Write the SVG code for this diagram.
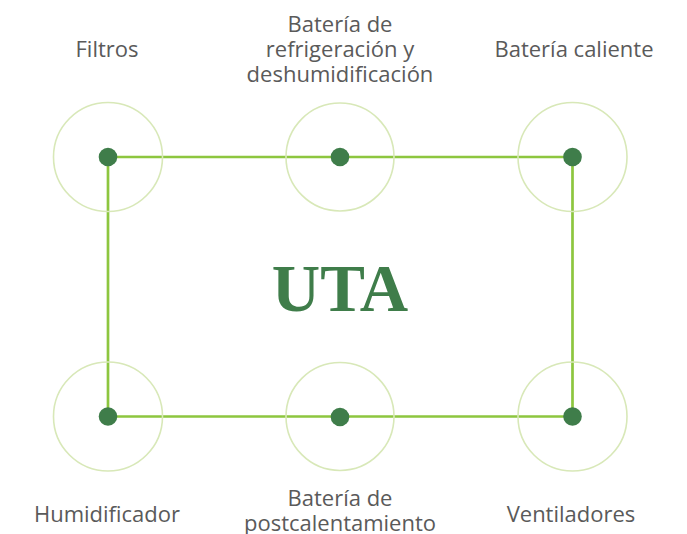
<svg xmlns="http://www.w3.org/2000/svg" width="687" height="534" viewBox="0 0 687 534">
<style>
.lbl{font-family:"Open Sans","Liberation Sans",sans-serif;font-size:22px;fill:#5a5a5a;text-anchor:middle}
.halo{fill:none;stroke:#d8e8b8;stroke-width:1.6}
.dot{fill:#3f7d4a}
.conn{fill:none;stroke:#8dc63f;stroke-width:2.7}
</style>
<rect width="687" height="534" fill="#ffffff"/>
<g id="connectors">
<path class="conn" d="M108 157 H572.5 V416.5 H108 Z"/>
</g>
<g id="filtros">
<circle class="halo" cx="108" cy="157" r="54.5"/>
<circle class="dot" cx="108" cy="157" r="9.3"/>
<text class="lbl" x="107" y="57">Filtros</text>
</g>
<g id="refrigeracion">
<circle class="halo" cx="340" cy="157" r="54"/>
<circle class="dot" cx="340" cy="157" r="9.3"/>
<text class="lbl" x="340" y="31.5">Batería de</text>
<text class="lbl" x="340" y="56.5">refrigeración y</text>
<text class="lbl" x="340" y="81.5">deshumidificación</text>
</g>
<g id="caliente">
<circle class="halo" cx="572.5" cy="157" r="54.5"/>
<circle class="dot" cx="572.5" cy="157" r="9.3"/>
<text class="lbl" x="574" y="57">Batería caliente</text>
</g>
<g id="humidificador">
<circle class="halo" cx="108" cy="416.5" r="54.5"/>
<circle class="dot" cx="108" cy="416.5" r="9.3"/>
<text class="lbl" x="107" y="522">Humidificador</text>
</g>
<g id="postcalentamiento">
<circle class="halo" cx="340" cy="416.5" r="54"/>
<circle class="dot" cx="340" cy="417" r="9.3"/>
<text class="lbl" x="340" y="506">Batería de</text>
<text class="lbl" x="340" y="531">postcalentamiento</text>
</g>
<g id="ventiladores">
<circle class="halo" cx="572.5" cy="416.5" r="54.5"/>
<circle class="dot" cx="572.5" cy="416.5" r="9.3"/>
<text class="lbl" x="571" y="522">Ventiladores</text>
</g>
<g id="uta">
<text x="340" y="311" font-family="'Liberation Serif',serif" font-weight="bold" font-size="67" fill="#3f7d4a" text-anchor="middle">UTA</text>
</g>
</svg>
